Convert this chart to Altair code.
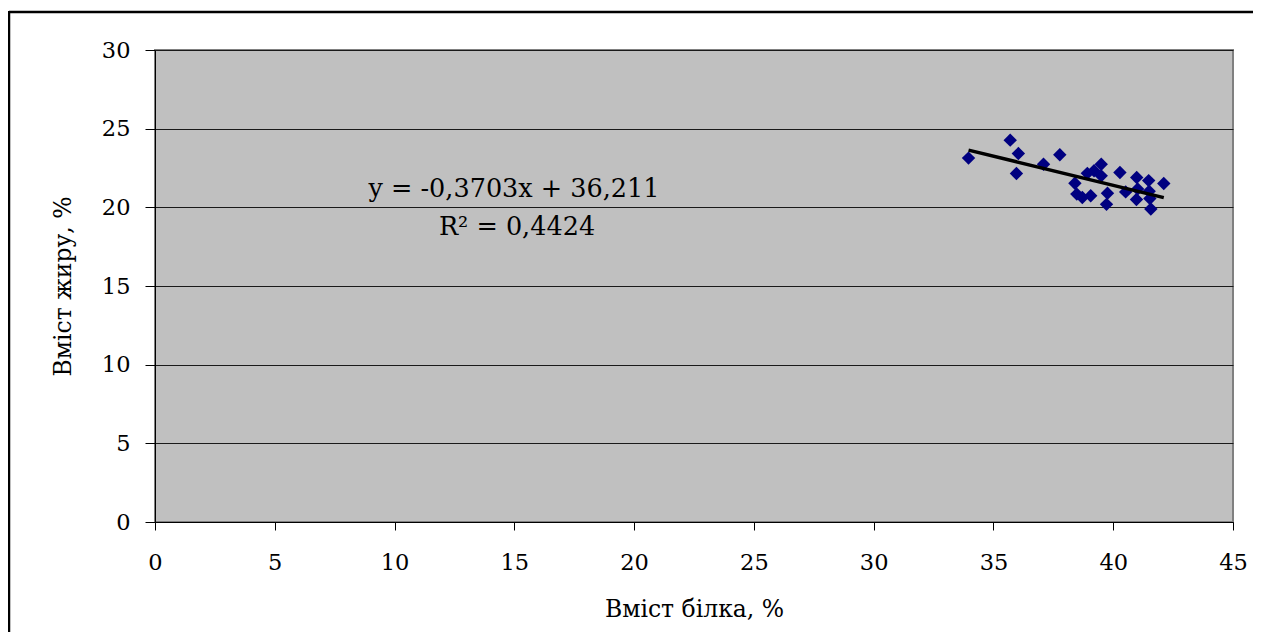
import altair as alt
import pandas as pd

# Data
protein = [33.96, 35.70, 36.04, 35.96, 37.09, 37.77, 39.50, 38.92, 39.20, 39.50,
           38.40, 38.48, 38.71, 39.06, 39.76, 39.72, 40.28, 40.98, 40.52, 41.02,
           41.48, 42.11, 41.50, 40.97, 41.53, 41.57]
fat = [23.13, 24.27, 23.42, 22.15, 22.74, 23.34, 22.74, 22.16, 22.33, 22.00,
       21.53, 20.84, 20.63, 20.74, 20.90, 20.19, 22.21, 21.90, 20.98, 21.16,
       21.70, 21.52, 21.02, 20.50, 20.56, 19.89]
slope = -0.3703
intercept = 36.211
r_squared = 0.4424
x_ticks = [0, 5, 10, 15, 20, 25, 30, 35, 40, 45]
y_ticks = [0, 5, 10, 15, 20, 25, 30]

FONT = "DejaVu Serif"

points = pd.DataFrame({"protein": protein, "fat": fat})
xmin, xmax = min(protein), max(protein)
trend = pd.DataFrame({
    "protein": [xmin, xmax],
    "fat": [slope * xmin + intercept, slope * xmax + intercept],
})

xscale = alt.Scale(domain=[0, 45], nice=False, zero=False)
yscale = alt.Scale(domain=[0, 30], nice=False, zero=False)

xaxis = alt.Axis(
    title="Вміст білка, %", values=x_ticks, grid=False, format="d",
    tickSize=8, tickColor="#000", domainColor="#000", tickWidth=1,
    labelPadding=21, labelFont=FONT, labelFontSize=22.5, labelColor="#000",
    titleFont=FONT, titleFontSize=23.5, titleColor="#000", titleFontWeight="normal",
    titleBaseline="alphabetic", titleY=94, labelFlush=False,
)
yaxis = alt.Axis(
    title="Вміст жиру, %", values=y_ticks, grid=True, gridColor="#1a1a1a", gridWidth=1.2,
    format="d", tickSize=10, tickColor="#000", domainColor="#000", tickWidth=1,
    labelPadding=15, labelFont=FONT, labelFontSize=22.5, labelColor="#000",
    titleFont=FONT, titleFontSize=23.5, titleColor="#000", titleFontWeight="normal",
    titleX=-92, titleY=236, titleBaseline="middle", titleAlign="center",
    labelFlush=False,
)

pts = alt.Chart(points).mark_point(
    shape="diamond", filled=True, size=180, color="#000080", opacity=1
).encode(
    x=alt.X("protein:Q", scale=xscale, axis=xaxis),
    y=alt.Y("fat:Q", scale=yscale, axis=yaxis),
)

line = alt.Chart(trend).mark_line(color="#000", strokeWidth=3.5).encode(
    x=alt.X("protein:Q", scale=xscale),
    y=alt.Y("fat:Q", scale=yscale),
)

eq_text = "y = " + f"{slope:.4f}".replace(".", ",") + "x + " + f"{intercept:.3f}".replace(".", ",")
r2_text = "R² = " + f"{r_squared:.4f}".replace(".", ",")

one = pd.DataFrame({"a": [0]})
eq = alt.Chart(one).mark_text(
    text=eq_text, font=FONT, fontSize=25.5, color="#000", align="center", baseline="alphabetic"
).encode(x=alt.value(359), y=alt.value(147))
r2 = alt.Chart(one).mark_text(
    text=r2_text, font=FONT, fontSize=25.5, color="#000", align="center", baseline="alphabetic"
).encode(x=alt.value(362), y=alt.value(185))

frame_top = alt.Chart(one).mark_rule(color="#000", strokeWidth=2.5).encode(
    x=alt.value(-146), x2=alt.value(1120), y=alt.value(-38)
)
frame_left = alt.Chart(one).mark_rule(color="#000", strokeWidth=2.5).encode(
    x=alt.value(-146), y=alt.value(-39), y2=alt.value(640)
)

chart = alt.layer(pts, line, eq, r2, frame_top, frame_left).properties(
    width=1078, height=472,
    padding={"left": 147, "top": 42, "right": 20, "bottom": 110},
    autosize=alt.AutoSizeParams(type="none"),
    background="#ffffff",
).configure_view(
    fill="#C0C0C0", stroke="#808080", strokeWidth=2
)

chart.save("out.html", embed_options={"renderer": "svg", "actions": False})
